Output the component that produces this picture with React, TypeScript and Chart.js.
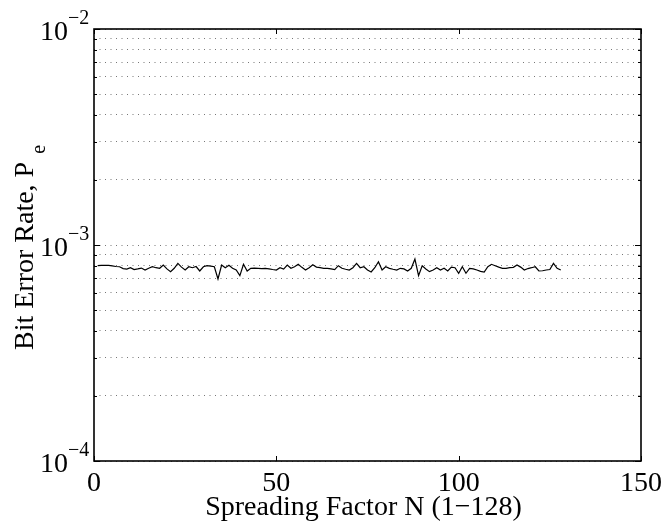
import React, { useEffect, useRef } from "react";
import { Chart, registerables } from "chart.js";

Chart.register(...registerables);

const FONT = '"Liberation Serif", "Times New Roman", Times, serif';

// Spreading factor N (1..128)
const spreadingFactors: number[] = Array.from({ length: 128 }, (_, i) => i + 1);

// Bit error rate
const bitErrorRate: number[] = [
  8.02e-4, 8.05e-4, 8.05e-4, 8.04e-4, 8.0e-4, 7.95e-4, 7.93e-4, 7.78e-4, 7.74e-4, 7.85e-4,
  7.69e-4, 7.75e-4, 7.82e-4, 7.66e-4, 7.8e-4, 7.93e-4, 7.85e-4, 7.8e-4, 8.08e-4, 7.75e-4,
  7.53e-4, 7.8e-4, 8.22e-4, 7.9e-4, 7.66e-4, 7.93e-4, 7.85e-4, 7.95e-4, 7.58e-4, 7.93e-4,
  8.02e-4, 7.98e-4, 7.93e-4, 6.96e-4, 8.08e-4, 7.85e-4, 8.05e-4, 7.8e-4, 7.66e-4, 7.21e-4,
  8.14e-4, 7.58e-4, 7.8e-4, 7.82e-4, 7.8e-4, 7.78e-4, 7.8e-4, 7.76e-4, 7.7e-4, 7.66e-4,
  7.85e-4, 7.74e-4, 8.08e-4, 7.8e-4, 7.93e-4, 8.14e-4, 7.88e-4, 7.66e-4, 7.85e-4, 8.1e-4,
  7.9e-4, 7.85e-4, 7.8e-4, 7.8e-4, 7.75e-4, 7.69e-4, 8.02e-4, 7.8e-4, 7.72e-4, 7.66e-4,
  7.85e-4, 8.22e-4, 7.85e-4, 7.93e-4, 7.66e-4, 7.5e-4, 7.85e-4, 8.37e-4, 7.66e-4, 7.93e-4,
  7.8e-4, 7.72e-4, 7.66e-4, 7.8e-4, 7.75e-4, 7.58e-4, 7.8e-4, 8.61e-4, 7.21e-4, 8.02e-4,
  7.75e-4, 7.53e-4, 7.66e-4, 7.85e-4, 7.66e-4, 7.8e-4, 7.58e-4, 7.9e-4, 7.85e-4, 7.4e-4,
  7.93e-4, 7.4e-4, 7.8e-4, 7.75e-4, 7.66e-4, 7.55e-4, 7.5e-4, 7.93e-4, 8.14e-4, 8.02e-4,
  7.9e-4, 7.8e-4, 7.8e-4, 7.85e-4, 7.88e-4, 8.08e-4, 7.9e-4, 7.66e-4, 7.78e-4, 7.85e-4,
  7.93e-4, 7.58e-4, 7.6e-4, 7.66e-4, 7.7e-4, 8.22e-4, 7.8e-4, 7.66e-4,
];

const xTickValues = [0, 50, 100, 150];
const xTickLabels = ["0", "50", "100", "150"];
const yDecades = [1e-4, 1e-3, 1e-2];
const yDecadeExponents = ["\u22124", "\u22123", "\u22122"];
const yMinorValues = [
  2e-4, 3e-4, 4e-4, 5e-4, 6e-4, 7e-4, 8e-4, 9e-4,
  2e-3, 3e-3, 4e-3, 5e-3, 6e-3, 7e-3, 8e-3, 9e-3,
];
const yGridValues = [1e-4, ...yMinorValues.slice(0, 8), 1e-3, ...yMinorValues.slice(8), 1e-2];

const xTitle = "Spreading Factor N (1\u2212128)";
const yTitleMain = "Bit Error Rate, P";
const yTitleSub = "e";

const matlabAxes = {
  id: "matlabAxes",
  afterDraw(chart: any) {
    const { ctx, chartArea: a, scales } = chart;
    const xs = scales.x;
    const ys = scales.y;
    ctx.save();
    ctx.strokeStyle = "#000";
    ctx.lineWidth = 1;
    ctx.beginPath();
    for (const v of xTickValues) {
      const px = Math.round(xs.getPixelForValue(v)) + 0.5;
      ctx.moveTo(px, a.bottom);
      ctx.lineTo(px, a.bottom - 5);
      ctx.moveTo(px, a.top);
      ctx.lineTo(px, a.top + 5);
    }
    for (const v of yMinorValues) {
      const py = Math.round(ys.getPixelForValue(v)) + 0.5;
      ctx.moveTo(a.left, py);
      ctx.lineTo(a.left + 3, py);
      ctx.moveTo(a.right, py);
      ctx.lineTo(a.right - 3, py);
    }
    for (const v of yDecades) {
      const py = Math.round(ys.getPixelForValue(v)) + 0.5;
      ctx.moveTo(a.left, py);
      ctx.lineTo(a.left + 6, py);
      ctx.moveTo(a.right, py);
      ctx.lineTo(a.right - 6, py);
    }
    ctx.stroke();

    ctx.lineWidth = 1.6;
    ctx.strokeRect(a.left, a.top, a.right - a.left, a.bottom - a.top);

    ctx.fillStyle = "#000";
    // x tick labels
    ctx.font = `28px ${FONT}`;
    ctx.textAlign = "center";
    ctx.textBaseline = "alphabetic";
    xTickValues.forEach((v, i) => {
      ctx.fillText(xTickLabels[i], xs.getPixelForValue(v), a.bottom + 30);
    });
    // y tick labels 10^k
    yDecades.forEach((v, i) => {
      const py = ys.getPixelForValue(v);
      ctx.font = `28px ${FONT}`;
      ctx.textAlign = "right";
      ctx.fillText("10", a.left - 26, py + 10.5);
      ctx.font = `20px ${FONT}`;
      ctx.textAlign = "left";
      ctx.fillText(yDecadeExponents[i], a.left - 26, py - 5);
    });
    // x title
    ctx.font = `28px ${FONT}`;
    ctx.textAlign = "center";
    ctx.fillText(xTitle, (a.left + a.right) / 2 - 4, a.bottom + 54);
    // y title (rotated)
    ctx.translate(33, 350);
    ctx.rotate(-Math.PI / 2);
    ctx.textAlign = "left";
    ctx.font = `28px ${FONT}`;
    ctx.fillText(yTitleMain, 0, 0);
    const w = ctx.measureText(yTitleMain).width;
    ctx.font = `20px ${FONT}`;
    ctx.fillText(yTitleSub, w + 8, 12);
    ctx.restore();
  },
};

export default function App() {
  const canvasRef = useRef<HTMLCanvasElement | null>(null);

  useEffect(() => {
    const canvas = canvasRef.current;
    if (!canvas) return;
    const chart = new Chart(canvas, {
      type: "line",
      data: {
        datasets: [
          {
            data: spreadingFactors.map((n, i) => ({ x: n, y: bitErrorRate[i] })),
            borderColor: "#000",
            borderWidth: 1.2,
            pointRadius: 0,
            tension: 0,
            fill: false,
          },
        ],
      },
      options: {
        responsive: false,
        animation: false,
        devicePixelRatio: 1,
        layout: { padding: { top: 29, right: 23, left: 0, bottom: 0 } },
        plugins: { legend: { display: false }, tooltip: { enabled: false } },
        scales: {
          x: {
            type: "linear",
            min: 0,
            max: 150,
            grid: { display: false, drawTicks: false },
            border: { display: false },
            ticks: { display: false },
            afterFit: (s: any) => {
              s.height = 61;
            },
          },
          y: {
            type: "logarithmic",
            min: 1e-4,
            max: 1e-2,
            grid: { display: true, drawTicks: false, color: "#777", lineWidth: 1 },
            border: { display: false, dash: [1, 4.5] },
            ticks: { display: false },
            afterBuildTicks: (s: any) => {
              s.ticks = yGridValues.map((v) => ({ value: v }));
            },
            afterFit: (s: any) => {
              s.width = 94;
            },
          },
        },
      },
      plugins: [matlabAxes],
    });
    return () => chart.destroy();
  }, []);

  return (
    <canvas
      ref={canvasRef}
      width={664}
      height={522}
      style={{ position: "absolute", left: 0, top: 0, width: 664, height: 522, background: "#fff" }}
    />
  );
}
